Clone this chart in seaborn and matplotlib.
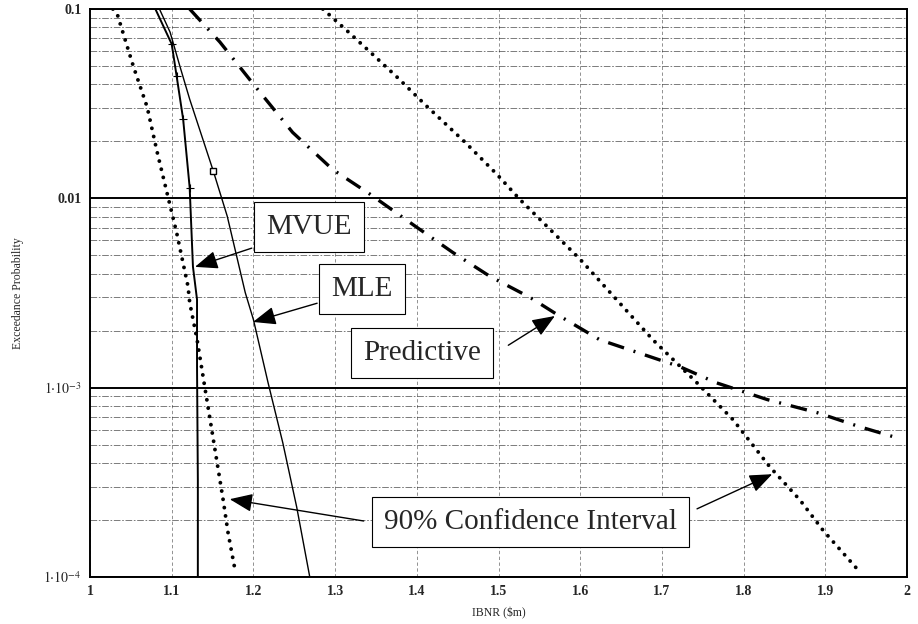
import numpy as np
import pandas as pd
import matplotlib
matplotlib.use("Agg")
import matplotlib.pyplot as plt
import seaborn as sns
from matplotlib.ticker import FixedLocator, FixedFormatter, LogLocator, NullFormatter

# ---- data ----
ci_low_x = [1.028, 1.034, 1.053, 1.070, 1.082, 1.094, 1.106, 1.120, 1.122, 1.131, 1.141,
            1.149, 1.155, 1.163, 1.169, 1.177]
ci_low_y = [0.1, 0.092, 0.0499, 0.0303, 0.0177, 0.0108, 0.0066, 0.00342, 0.00282, 0.00180,
            0.000976, 0.000600, 0.000416, 0.000255, 0.000171, 0.000112]

mvue_x = [1.080, 1.100, 1.106, 1.114, 1.122, 1.126, 1.131, 1.131, 1.132, 1.132]
mvue_y = [0.1, 0.0653, 0.0443, 0.0262, 0.0114, 0.00436, 0.00292, 0.00129, 0.000326, 0.0001]

mle_x = [1.085, 1.098, 1.110, 1.122, 1.151, 1.168, 1.190, 1.200, 1.218, 1.236, 1.253, 1.269]
mle_y = [0.1, 0.0755, 0.0499, 0.0334, 0.0139, 0.00804, 0.00318, 0.00229, 0.00106,
         0.000511, 0.000234, 0.0001]

pred_x = [1.122, 1.159, 1.200, 1.248, 1.297, 1.343, 1.395, 1.444, 1.490, 1.539, 1.572,
          1.624, 1.685, 1.722, 1.767, 1.829, 1.890, 1.942, 1.988]
pred_y = [0.1, 0.0669, 0.0401, 0.0223, 0.0142, 0.0105, 0.00728, 0.00518, 0.00386, 0.00299,
          0.00243, 0.00179, 0.00146, 0.00129, 0.00106, 0.000865, 0.000738, 0.000622, 0.000543]

ci_high_x = [1.285, 1.315, 1.343, 1.376, 1.412, 1.459, 1.498, 1.526, 1.563, 1.600, 1.639,
             1.689, 1.743, 1.787, 1.832, 1.869, 1.897, 1.940]
ci_high_y = [0.1, 0.0765, 0.0592, 0.0436, 0.0307, 0.0198, 0.0134, 0.00988, 0.00686, 0.00476,
             0.00310, 0.00179, 0.00106, 0.000678, 0.000382, 0.000255, 0.000177, 0.000109]

x_ticks = [1.0, 1.1, 1.2, 1.3, 1.4, 1.5, 1.6, 1.7, 1.8, 1.9, 2.0]
x_tick_labels = ["1", "1.1", "1.2", "1.3", "1.4", "1.5", "1.6", "1.7", "1.8", "1.9", "2"]
y_ticks = [1e-4, 1e-3, 1e-2, 1e-1]
y_tick_labels = [r"$1{\cdot}10^{-4}$", r"$1{\cdot}10^{-3}$", "0.01", "0.1"]

# ---- figure ----
sns.set_style("white")
plt.rcParams["font.family"] = ["Liberation Serif", "DejaVu Serif"]
plt.rcParams["mathtext.fontset"] = "stix"

fig = plt.figure(figsize=(9.18, 6.24), dpi=100)
ax = fig.add_axes([90 / 918, 1 - 577 / 624, 817 / 918, 568 / 624])

def df(x, y):
    return pd.DataFrame({"x": x, "y": y})

dot_style = (0, (0.01, 2.15))
sns.lineplot(data=df(ci_low_x, ci_low_y), x="x", y="y", ax=ax, sort=False, estimator=None,
             color="black", lw=2.8, linestyle=dot_style, dash_capstyle="round")
sns.lineplot(data=df(ci_high_x, ci_high_y), x="x", y="y", ax=ax, sort=False, estimator=None,
             color="black", lw=2.8, linestyle=dot_style, dash_capstyle="round")
sns.lineplot(data=df(mvue_x, mvue_y), x="x", y="y", ax=ax, sort=False, estimator=None,
             color="black", lw=1.4)
ax.plot(mvue_x[1:5], mvue_y[1:5], marker="+", markersize=6, markeredgewidth=0.8,
        color="black", lw=0)
sns.lineplot(data=df(mle_x, mle_y), x="x", y="y", ax=ax, sort=False, estimator=None,
             color="black", lw=1.0)
ax.plot(mle_x[4:5], mle_y[4:5], marker="s", markersize=4, mfc="white", mec="black", lw=0)
sns.lineplot(data=df(pred_x, pred_y), x="x", y="y", ax=ax, sort=False, estimator=None,
             color="black", lw=2.4, linestyle=(0, (5, 3, 0.6, 3)))

ax.set_yscale("log")
ax.set_xlim(1.0, 2.0)
ax.set_ylim(1e-4, 1e-1)

ax.xaxis.set_major_locator(FixedLocator(x_ticks))
ax.xaxis.set_major_formatter(FixedFormatter(x_tick_labels))
ax.yaxis.set_major_locator(FixedLocator(y_ticks))
ax.yaxis.set_major_formatter(FixedFormatter(y_tick_labels))
ax.yaxis.set_minor_locator(LogLocator(base=10, subs=np.arange(2, 10)))
ax.yaxis.set_minor_formatter(NullFormatter())

ax.grid(True, which="major", axis="y", color="black", lw=1.4)
ax.grid(True, which="minor", axis="y", color="black", lw=0.6, linestyle=(0, (8, 2, 2, 2)), alpha=0.6)
ax.grid(True, which="major", axis="x", color="black", lw=0.6, linestyle=(0, (4, 3)), alpha=0.5)

ax.tick_params(axis="both", which="both", length=2, labelsize=10, pad=4, color="black")
ax.tick_params(axis="y", which="minor", length=0)
for lab in ax.get_xticklabels() + ax.get_yticklabels():
    lab.set_fontweight("bold")

for s in ax.spines.values():
    s.set_color("black")
    s.set_linewidth(1.4)

ax.set_xlabel(r"IBNR (\$m)", fontsize=8.5, labelpad=6)
ax.set_ylabel("Exceedance Probability", fontsize=8.5, labelpad=14)

# ---- annotations ----
box = dict(boxstyle="square,pad=0.42", fc="white", ec="black", lw=0.8)
tk = dict(transform=ax.transAxes, ha="center", va="center", fontsize=21, bbox=box, zorder=6,
          family=["Liberation Serif"])
ax.text(0.268, 0.616, "MVUE", **tk)
ax.text(0.333, 0.507, "MLE", **tk)
ax.text(0.406, 0.394, "Predictive", **tk)
ax.text(0.539, 0.097, "90% Confidence Interval", **tk)

arrows = [((0.198, 0.579), (0.1285, 0.546)),
          ((0.278, 0.482), (0.1995, 0.449)),
          ((0.512, 0.408), (0.569, 0.4595)),
          ((0.335, 0.0986), (0.171, 0.137)),
          ((0.743, 0.120), (0.835, 0.181))]
for start, tip in arrows:
    ax.annotate("", xy=tip, xycoords="axes fraction", xytext=start, textcoords="axes fraction",
                arrowprops=dict(arrowstyle="-|>,head_length=1.0,head_width=0.4", color="black",
                                lw=1.0, mutation_scale=14, shrinkA=0, shrinkB=0), zorder=7)

fig.savefig("out.png", dpi=100)
